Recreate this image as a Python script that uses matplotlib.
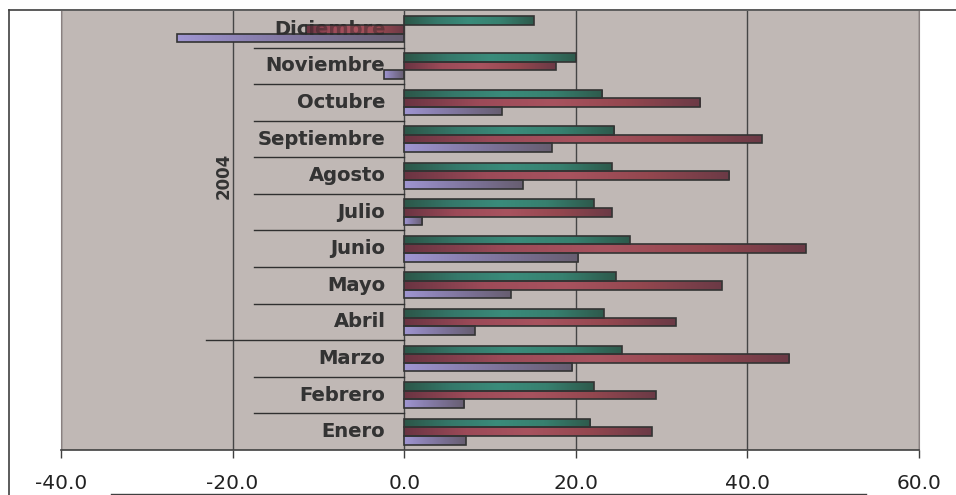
import numpy as np
import matplotlib
matplotlib.use("Agg")
import matplotlib.pyplot as plt
from matplotlib.colors import LinearSegmentedColormap
from matplotlib.lines import Line2D

months = ["Enero", "Febrero", "Marzo", "Abril", "Mayo", "Junio",
          "Julio", "Agosto", "Septiembre", "Octubre", "Noviembre", "Diciembre"]
serie_verde = [21.7, 22.1, 25.4, 23.3, 24.7, 26.3, 22.1, 24.2, 24.5, 23.1, 20.0, 15.1]
serie_roja = [28.9, 29.3, 44.9, 31.7, 37.0, 46.8, 24.2, 37.9, 41.7, 34.5, 17.7, -11.5]
serie_morada = [7.2, 7.0, 19.6, 8.2, 12.4, 20.3, 2.1, 13.8, 17.2, 11.4, -2.3, -26.5]
year_label = "2004"
xticks = [-40, -20, 0, 20, 40, 60]

plt.rcParams['font.family'] = ['DejaVu Sans']

fig = plt.figure(figsize=(9.56, 4.95), dpi=100)
ax = fig.add_axes([61/956, 45/495, (919-61)/956, (450-11)/495])
ax.set_facecolor('#C0B8B5')

cmaps = [
    LinearSegmentedColormap.from_list('g', ['#2C5648', '#35786A', '#3A8C7B', '#37806F', '#2E5A4C']),
    LinearSegmentedColormap.from_list('r', ['#6A3442', '#9C4A58', '#A8535F', '#94474F', '#6B3A46']),
    LinearSegmentedColormap.from_list('p', ['#A096D2', '#8A80B0', '#786E90', '#675E70']),
]
series = [serie_verde, serie_roja, serie_morada]
h = 0.235
offsets = [h, 0.0, -h]
y = np.arange(len(months))
grad = np.linspace(0, 1, 256).reshape(1, -1)

for vals, off, cm in zip(series, offsets, cmaps):
    bars = ax.barh(y + off, vals, height=h, facecolor='none',
                   edgecolor='#333333', linewidth=1.2, zorder=4)
    for b in bars:
        x0 = b.get_x(); w = b.get_width(); y0 = b.get_y(); bh = b.get_height()
        xa, xb = min(x0, x0 + w), max(x0, x0 + w)
        im = ax.imshow(grad, cmap=cm, extent=[xa, xb, y0, y0 + bh],
                       aspect='auto', origin='lower', zorder=3, interpolation='bilinear')
        im.set_clip_path(b)

ax.set_xlim(-40, 60)
ax.set_ylim(-0.5, 11.5)
ax.set_xticks(xticks)
ax.set_xticklabels([f"{t:.1f}" for t in xticks])
ax.set_yticks([])
ax.grid(axis='x', color='#454545', linewidth=1.0, zorder=1)
ax.set_axisbelow(True)
ax.tick_params(axis='x', direction='out', length=6, width=1, color='#404040',
               labelsize=14.5, labelcolor='#222222', pad=11)

ax.spines['top'].set_visible(False)
ax.spines['left'].set_color('#8A8080')
ax.spines['right'].set_color('#8A8080')
ax.spines['bottom'].set_color('#404040')
ax.spines['bottom'].set_linewidth(1.2)

# category labels (a faint copy above the bars lets letters show through a bar)
for i, m in enumerate(months):
    ax.text(-2.2, i, m, ha='right', va='center', fontsize=14, fontweight='bold',
            color='#404040', zorder=2.5)
    ax.text(-2.2, i, m, ha='right', va='center', fontsize=14, fontweight='bold',
            color='#202020', alpha=0.4, zorder=5)

# category separators
for i in range(len(months) - 1):
    yy = i + 0.5
    x_start = -23.1 if i == 2 else -17.5
    ax.plot([x_start, 0], [yy, yy], color='#303030', linewidth=1.0, zorder=2)

ax.text(-21.0, 7.0, year_label, rotation=90, ha='center', va='center',
        fontsize=12, fontweight='bold', color='#333333', zorder=2.5)

# outer frame pieces
fig.add_artist(Line2D([9/956, 9/956], [0, 1 - 10/495], transform=fig.transFigure,
                      color='#404040', linewidth=1.2))
fig.add_artist(Line2D([9/956, 1], [1 - 10/495, 1 - 10/495], transform=fig.transFigure,
                      color='#404040', linewidth=1.2))
fig.add_artist(Line2D([111/956, 866/956], [1/495, 1/495], transform=fig.transFigure,
                      color='#404040', linewidth=1.0))

fig.savefig('out.png', dpi=100)
